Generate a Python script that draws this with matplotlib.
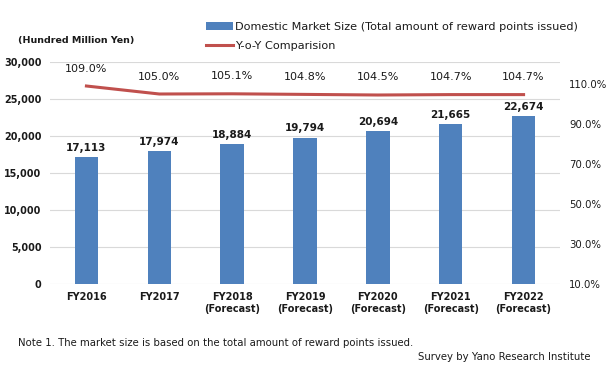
import matplotlib
matplotlib.use('Agg')
import matplotlib.pyplot as plt
from matplotlib.ticker import FuncFormatter

plt.rcParams['font.family'] = ['DejaVu Sans']

# data
vCategories = ['FY2016', 'FY2017', 'FY2018\n(Forecast)', 'FY2019\n(Forecast)',
               'FY2020\n(Forecast)', 'FY2021\n(Forecast)', 'FY2022\n(Forecast)']
vMarket = [17113, 17974, 18884, 19794, 20694, 21665, 22674]
vYoY = [109.0, 105.0, 105.1, 104.8, 104.5, 104.7, 104.7]
vLeftTicks = [0, 5000, 10000, 15000, 20000, 25000, 30000]
vRightTicks = [10, 30, 50, 70, 90, 110]

BAR_COLOR = '#4F81BD'
LINE_COLOR = '#C0504D'
TEXT_COLOR = '#1a1a1a'
GRID_COLOR = '#d9d9d9'

fig = plt.figure(figsize=(6.14, 3.75), dpi=100)
ax = fig.add_axes([50/614, 1-284/375, 510/614, 222/375])
vX = list(range(len(vCategories)))

ax.bar(vX, vMarket, width=0.32, color=BAR_COLOR, zorder=3,
       label='Domestic Market Size (Total amount of reward points issued)')
for x, v in zip(vX, vMarket):
    ax.annotate(f'{v:,}', (x, v), xytext=(0, 3), textcoords='offset points',
                ha='center', va='bottom', fontsize=7.5, fontweight='bold', color=TEXT_COLOR)

ax.set_xlim(-0.5, len(vCategories) - 0.5)
ax.set_ylim(0, 30000)
ax.set_yticks(vLeftTicks)
ax.yaxis.set_major_formatter(FuncFormatter(lambda v, p: f'{int(v):,}'))
ax.set_xticks(vX)
ax.set_xticklabels(vCategories)
ax.grid(axis='y', color=GRID_COLOR, linewidth=0.8, zorder=0)
ax.tick_params(axis='both', length=0, colors=TEXT_COLOR)
ax.tick_params(axis='y', pad=6, labelsize=6.9)
ax.tick_params(axis='x', pad=6, labelsize=7)
for lbl in ax.get_xticklabels() + ax.get_yticklabels():
    lbl.set_fontweight('bold')
for s in ax.spines.values():
    s.set_visible(False)

ax2 = ax.twinx()
ax2.plot(vX, vYoY, color=LINE_COLOR, linewidth=2.2, zorder=4, label='Y-o-Y Comparision')
for x, v in zip(vX, vYoY):
    ax2.annotate(f'{v:.1f}%', (x, v), xytext=(0, 9), textcoords='offset points',
                 ha='center', va='bottom', fontsize=8, color=TEXT_COLOR)
ax2.set_ylim(10, 121)
ax2.set_yticks(vRightTicks)
ax2.yaxis.set_major_formatter(FuncFormatter(lambda v, p: f'{v:.1f}%'))
ax2.tick_params(axis='y', length=0, labelsize=7.3, colors=TEXT_COLOR, pad=6.5)
for s in ax2.spines.values():
    s.set_visible(False)

h1, l1 = ax.get_legend_handles_labels()
h2, l2 = ax2.get_legend_handles_labels()
fig.legend(h1 + h2, l1 + l2, loc='upper left', bbox_to_anchor=(196/614, 1-12/375),
           frameon=False, fontsize=8.1, handlelength=2.4, handletextpad=0.2,
           labelspacing=0.75, labelcolor=TEXT_COLOR)

fig.text(18/614, 1-41/375, '(Hundred Million Yen)', fontsize=6.8, fontweight='bold',
         color=TEXT_COLOR, va='center')
fig.text(18/614, 1-343/375, 'Note 1. The market size is based on the total amount of reward points issued.',
         fontsize=7.3, color=TEXT_COLOR, va='center')
fig.text(590/614, 1-357/375, 'Survey by Yano Research Institute', fontsize=7.3,
         color=TEXT_COLOR, va='center', ha='right')

fig.savefig('out.png', dpi=100)
